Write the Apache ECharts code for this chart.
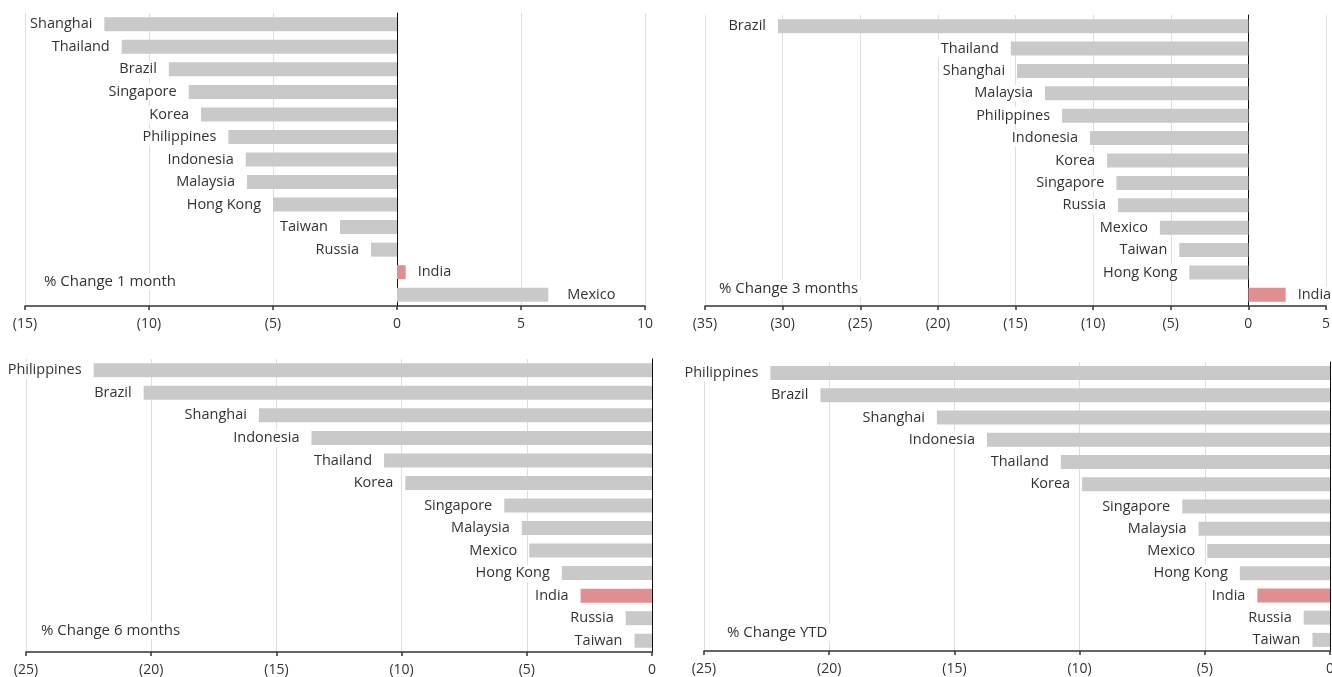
<!DOCTYPE html>
<html>
<head>
<meta charset="utf-8">
<script src="https://cdn.jsdelivr.net/npm/echarts@6/dist/echarts.min.js"></script>
<style>
html,body{margin:0;padding:0;background:#fff;}
#c{width:1332px;height:677px;}
</style>
</head>
<body>
<div id="c"></div>
<script>
// ---- data ----
const cats1 = ['Shanghai','Thailand','Brazil','Singapore','Korea','Philippines','Indonesia','Malaysia','Hong Kong','Taiwan','Russia','India','Mexico'];
const vals1 = [-11.8,-11.1,-9.2,-8.4,-7.9,-6.8,-6.1,-6.05,-5.0,-2.3,-1.05,0.35,6.1];

const cats2 = ['Brazil','Thailand','Shanghai','Malaysia','Philippines','Indonesia','Korea','Singapore','Russia','Mexico','Taiwan','Hong Kong','India'];
const vals2 = [-30.3,-15.3,-14.9,-13.1,-12.0,-10.2,-9.1,-8.5,-8.4,-5.7,-4.45,-3.8,2.4];

const cats3 = ['Philippines','Brazil','Shanghai','Indonesia','Thailand','Korea','Singapore','Malaysia','Mexico','Hong Kong','India','Russia','Taiwan'];
const vals3 = [-22.3,-20.3,-15.7,-13.6,-10.7,-9.85,-5.9,-5.2,-4.9,-3.6,-2.85,-1.05,-0.7];

const cats4 = ['Philippines','Brazil','Shanghai','Indonesia','Thailand','Korea','Singapore','Malaysia','Mexico','Hong Kong','India','Russia','Taiwan'];
const vals4 = [-22.35,-20.35,-15.7,-13.7,-10.75,-9.9,-5.9,-5.25,-4.9,-3.6,-2.9,-1.05,-0.7];

const titles = ['% Change 1 month','% Change 3 months','% Change 6 months','% Change YTD'];
const ranges = [[-15,10],[-35,5],[-25,0],[-25,0]];
const highlight = 'India';

// ---- layout ----
const FONT = 'Open Sans';
const grids = [
  {left:25, top:13, width:620, height:293},
  {left:705, top:15, width:621, height:291},
  {left:26, top:359, width:626, height:293},
  {left:704, top:362, width:626, height:289}
].map(g => Object.assign(g, {outerBoundsMode:'none', containLabel:false}));
const titlePos = [[41,273],[716,280],[38,622],[724,624]];

const allCats = [cats1,cats2,cats3,cats4];
const allVals = [vals1,vals2,vals3,vals4];

const fmt = v => v < 0 ? '(' + (-v) + ')' : String(v);

const xAxis = [], yAxis = [], series = [], title = [];
for (let i = 0; i < 4; i++) {
  xAxis.push({
    type:'value', gridIndex:i, min:ranges[i][0], max:ranges[i][1], interval:5,
    axisLine:{show:true, lineStyle:{color:'#333', width:1.5}},
    axisTick:{show:true, length:4, lineStyle:{color:'#333', width:1.5}},
    axisLabel:{formatter:fmt, color:'#333', fontSize:14, fontFamily:FONT, margin:11},
    splitLine:{show:true, lineStyle:{color:'#dedede', width:1}}
  });
  yAxis.push({
    type:'category', gridIndex:i, inverse:true, data:allCats[i],
    axisLine:{show:true, onZero:true, lineStyle:{color:'#111', width:1}},
    axisTick:{show:false}, axisLabel:{show:false}, splitLine:{show:false}
  });
  series.push({
    type:'bar', xAxisIndex:i, yAxisIndex:i, barWidth:14, z:3,
    data: allVals[i].map((v,k) => ({
      value:v,
      itemStyle:{color: allCats[i][k] === highlight ? '#df8f8f' : '#c9c9c9'},
      label:{
        show:true, position: v < 0 ? 'left' : 'right',
        distance: (v > 0 && allCats[i][k] !== highlight) ? 16 : 9,
        formatter: allCats[i][k],
        color:'#333', fontSize:14.5, fontFamily:FONT,
        backgroundColor:'#fff', padding:[1,3]
      }
    }))
  });
  title.push({
    text:titles[i], left:titlePos[i][0], top:titlePos[i][1],
    backgroundColor:'#fff', padding:[1,3],
    textStyle:{fontSize:15, fontWeight:'normal', color:'#333', fontFamily:FONT}
  });
}

const chart = echarts.init(document.getElementById('c'), null, {renderer:'canvas'});
chart.setOption({
  animation:false,
  backgroundColor:'#fff',
  title, grid:grids, xAxis, yAxis, series
});
</script>
</body>
</html>
